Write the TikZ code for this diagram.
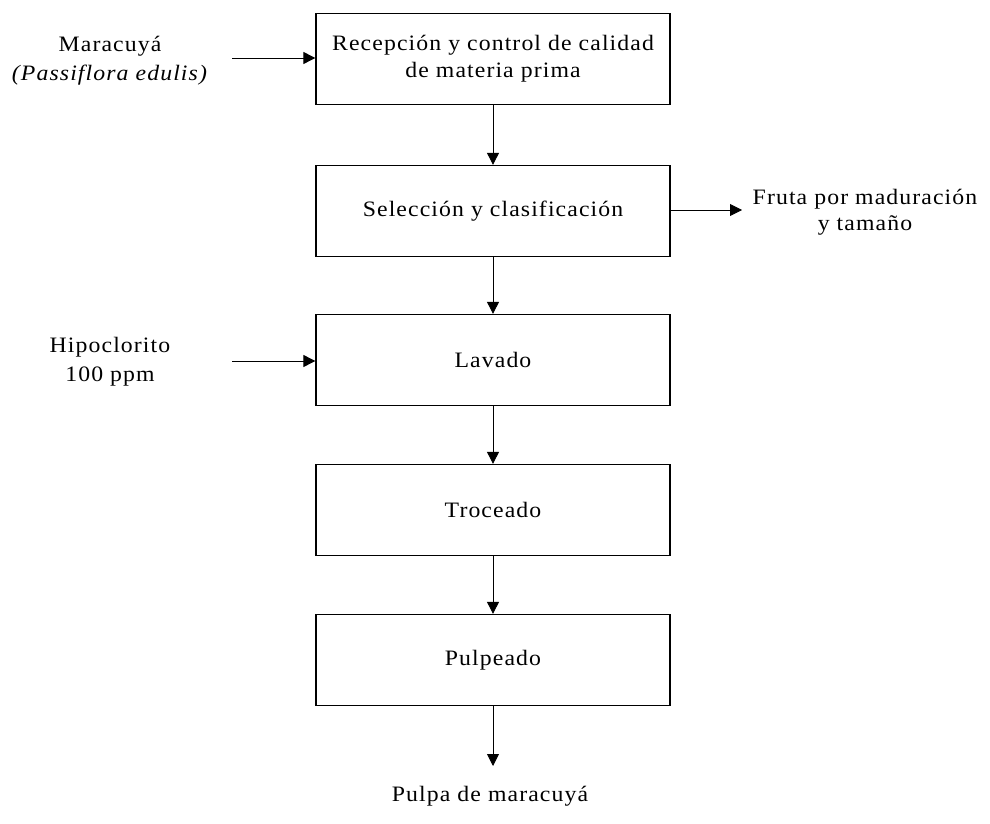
\documentclass[tikz,border=0pt]{standalone}
\usepackage{fontspec}
\setmainfont{Liberation Serif}[FakeStretch=1.08,LetterSpace=5]
\usetikzlibrary{arrows.meta}
\begin{document}
\begin{tikzpicture}[x=1pt,y=-1pt,
  stepbox/.style={draw,line width=1.3pt,minimum width=354pt,minimum height=91pt,inner sep=0pt,font=\fontsize{22}{27}\selectfont,align=center},
  lbl/.style={font=\fontsize{22}{29}\selectfont,align=center,inner sep=0pt},
  arr/.style={line width=0.9pt,-{Triangle[length=12pt,width=12pt]}}]
\useasboundingbox (0,0) rectangle (990,824);
\node[stepbox] (b1) at (493,59) {Recepción y control de calidad\\de materia prima};
\node[stepbox] (b2) at (493,211) {Selección y clasificación};
\node[stepbox] (b3) at (493,360) {Lavado};
\node[stepbox] (b4) at (493,510) {Troceado};
\node[stepbox] (b5) at (493,660) {Pulpeado};
\node[lbl] (m) at (110,61) {Maracuyá\\\textit{(Passiflora edulis)}};
\node[lbl] (h) at (110,362) {Hipoclorito\\100 ppm};
\node[lbl,font=\fontsize{22}{26}\selectfont] (f) at (865,212) {Fruta por maduración\\y tamaño};
\node[lbl] (p) at (490,796) {Pulpa de maracuyá};
\coordinate (ma) at (232,58);
\coordinate (ha) at (232,361);
\coordinate (fa) at (742,210);
\coordinate (pa) at (493,766);
\draw[arr] (ma) -- (b1.west |- ma);
\draw[arr] (ha) -- (b3.west |- ha);
\draw[arr] (b2.east |- fa) -- (fa);
\draw[arr] (b1) -- (b2);
\draw[arr] (b2) -- (b3);
\draw[arr] (b3) -- (b4);
\draw[arr] (b4) -- (b5);
\draw[arr] (b5) -- (pa);
\end{tikzpicture}
\end{document}
